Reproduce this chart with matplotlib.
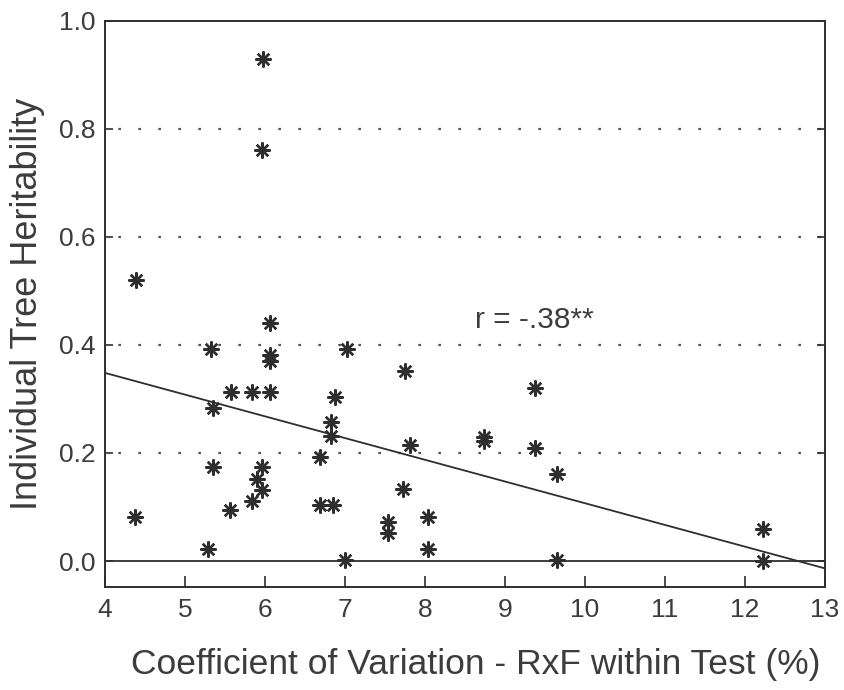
import matplotlib
matplotlib.use("Agg")
import matplotlib.pyplot as plt
import numpy as np

plt.rcParams['font.family'] = ['Liberation Sans', 'DejaVu Sans']

# Coefficient of variation (%) and individual tree heritability
cv = [5.97, 5.96, 4.39, 6.06, 6.06, 6.06, 5.33, 7.02, 7.75, 9.38,
      5.58, 5.84, 6.06, 6.87, 5.35, 6.82, 6.82, 7.81, 8.74, 8.74,
      9.38, 6.69, 9.65, 5.96, 5.35, 5.90, 5.96, 5.84, 7.73, 6.69,
      6.85, 5.56, 4.37, 8.04, 7.54, 7.54, 5.29, 8.04, 7.00, 9.65,
      12.23, 12.23]
h2 = [0.93, 0.76, 0.52, 0.44, 0.382, 0.37, 0.392, 0.392, 0.352, 0.321,
      0.312, 0.312, 0.312, 0.303, 0.283, 0.257, 0.232, 0.214, 0.229, 0.223,
      0.21, 0.193, 0.161, 0.174, 0.174, 0.152, 0.131, 0.112, 0.134, 0.103,
      0.103, 0.094, 0.082, 0.082, 0.072, 0.051, 0.023, 0.023, 0.002, 0.002,
      0.06, 0.0]

# Regression line parameters
reg_intercept = 0.509
reg_slope = -0.0402
r_label = "r = -.38**"

xticks = [4, 5, 6, 7, 8, 9, 10, 11, 12, 13]
yticks = [0.0, 0.2, 0.4, 0.6, 0.8, 1.0]
gridvals = [0.2, 0.4, 0.6, 0.8]

ink = '#2e2e2e'
txt = '#3c3c3c'

fig = plt.figure(figsize=(8.44, 6.90), dpi=100)
ax = fig.add_axes([0.1244, 0.1493, 0.9775 - 0.1244, 0.970 - 0.1493])

ax.set_xlim(4, 13)
ax.set_ylim(-0.048, 1.0)

for g in gridvals:
    ax.axhline(g, color='#555555', linestyle=(3, (1.2, 7.8)), linewidth=1.6, zorder=1)
ax.axhline(0.0, color=ink, linewidth=1.3, zorder=2)

xl = np.array([4, 13])
ax.plot(xl, reg_intercept + reg_slope * xl, color=ink, linewidth=1.3, zorder=2)

ax.plot(cv, h2, linestyle='none', marker=(8, 2, 0), markersize=11.5,
        markeredgewidth=1.7, color=ink, zorder=3)

ax.text(8.62, 0.447, r_label, fontsize=21.5, color=txt, ha='left', va='center')

ax.set_xticks(xticks)
ax.set_yticks(yticks)
ax.set_xticklabels([str(v) for v in xticks])
ax.set_yticklabels([f"{v:.1f}" for v in yticks])
ax.tick_params(axis='both', direction='in', length=8, width=1.2, colors=ink,
               labelcolor=txt, labelsize=19)
ax.tick_params(axis='y', right=True, length=6)
ax.tick_params(axis='x', pad=8)
ax.tick_params(axis='y', pad=7)

for s in ax.spines.values():
    s.set_color(ink)
    s.set_linewidth(1.4)

ax.set_xlabel("Coefficient of Variation - RxF within Test (%)", fontsize=25.5,
              color=txt)
ax.xaxis.set_label_coords(0.515, -0.108)
ax.set_ylabel("Individual Tree Heritability", fontsize=26, color=txt, labelpad=10)

fig.savefig("out.png", dpi=100, facecolor='white')
